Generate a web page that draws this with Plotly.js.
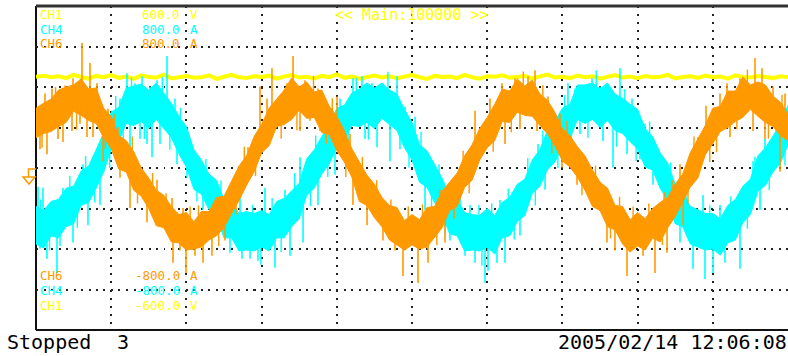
<!DOCTYPE html>
<html><head><meta charset="utf-8">
<script src="https://cdn.plot.ly/plotly-3.0.1.min.js"></script>
<style>html,body{margin:0;padding:0;background:#fff;}#chart{width:788px;height:356px;}</style>
</head><body><div id="chart"></div>
<script>
// CH6 current (A): upper / lower edge of the trace body, 10 samples per division
const ch6Hi = [295,320,340,385,400,410,440,390,395,295, 255,160,135,80,0,-50,-110,-135,-190,-230, -220,-265,-215,-215,-145,-140,-65,10,60,155, 215,295,340,385,445,400,425,375,385,305, 255,185,95,30,-35,-80,-145,-185,-195,-260, -230,-255,-195,-190,-115,-70,-25,60,115,195, 250,315,390,380,440,405,435,365,335,275, 195,160,105,60,-10,-70,-100,-185,-190,-255, -220,-250,-200,-170,-145,-80,-30,75,140,210, 295,305,380,380,450,410,425,410,355,325, 265];
const ch6Lo = [150,170,180,205,225,280,260,235,220,150, 95,-5,-20,-110,-140,-200,-285,-295,-365,-370, -405,-400,-390,-355,-335,-295,-225,-160,-85,-20, 75,110,205,215,240,285,245,250,175,165, 85,30,-45,-165,-185,-245,-290,-355,-380,-405, -380,-400,-390,-340,-295,-210,-190,-95,-60,40, 100,135,230,225,275,260,255,210,170,110, 35,5,-45,-110,-190,-210,-290,-305,-375,-415, -385,-405,-345,-365,-295,-240,-170,-95,-50,65, 120,180,200,230,250,290,255,225,205,160, 135];
// CH6 large noise spikes: position (samples) and tip value (A)
const ch6SpikeAt  = [1.20,2.13,3.86,4.92,6.12,7.18,8.11,9.57,10.90,16.09,18.09,19.55,28.19,29.79,30.72,31.38,33.38,34.18,35.77,37.50,40.03,41.76,53.72,58.38,60.37,61.97,63.70,65.43,66.36,68.09,69.68,83.64,85.64,88.03,89.10,90.96,91.89,93.62,95.61,96.54,98.01,99.60,
                     0.53,1.46,2.93,3.59,4.79,5.85,6.78,7.58,8.91,11.17,12.50,14.76,18.22,19.15,19.95,21.14,22.21,23.40,25.13,31.12,32.05,35.11,36.44,37.77,42.15,44.02,46.14,47.74,48.80,50.80,52.13,54.39,59.71,62.37,64.36,66.62,69.95,71.94,75.93,76.99,78.59,80.72,82.31,83.91,86.04,92.29,95.35,96.94,98.94];
const ch6SpikeTip = [368,393,408,443,618,518,418,293,203,-58,-148,-198,103,403,343,493,418,553,433,393,353,168,-108,283,343,418,443,453,483,353,268,-118,18,153,308,368,418,443,543,493,403,368,
                     93,68,143,128,183,218,153,153,33,-48,-198,-268,-468,-408,-518,-433,-468,-433,-358,183,218,183,233,183,-183,-283,-358,-408,-533,-568,-468,-368,83,118,193,183,3,-83,-368,-408,-533,-433,-518,-418,-283,153,183,143,-18];
// CH6 smaller spikes
const ch6MinorAt  = [0.8,2.6,5.4,9.2,10.4,12.8,13.5,15.5,17.3,20.5,21.6,24.3,26.6,27.7,29.2,32.6,34.7,36.9,38.6,39.4,41.2,43.4,45.3,47.2,49.5,51.4,53.3,55.6,56.8,57.6,60.8,63.2,64.8,67.4,68.6,70.6,72.6,74.4,76.4,77.6,79.4,81.5,83.3,84.6,86.7,87.5,89.6,90.5,93.2,94.6,97.4,99.2];
const ch6MinorTip = [100,400,190,95,265,155,-175,-25,-125,-190,-185,-385,-230,105,-40,145,186,455,120,345,-45,55,-60,-155,-190,-180,-380,-250,85,-125,80,177,477,410,70,233,-135,12,-348,-142,-190,-175,-380,-60,-175,155,30,78,191,486,145,361];
// CH4 current (A)
const ch4Hi = [-190,-210,-165,-155,-100,-90,-15,10,90,175, 275,300,395,405,415,385,420,370,320,255, 205,90,40,-30,-60,-155,-170,-225,-215,-225, -210,-230,-165,-150,-115,-75,45,90,155,210, 295,310,370,390,420,395,420,385,365,290, 225,115,85,15,-50,-140,-150,-220,-230,-235, -200,-235,-170,-145,-80,-55,40,90,185,230, 295,315,410,410,420,390,420,365,345,315, 290,195,155,75,25,-80,-110,-190,-205,-225, -225,-250,-185,-155,-90,-55,60,100,160,215, 310];
const ch4Lo = [-375,-395,-335,-345,-290,-275,-185,-170,-100,-20, 95,130,220,210,230,195,240,195,150,70, 5,-105,-130,-205,-240,-345,-345,-410,-405,-410, -390,-410,-345,-345,-290,-250,-135,-100,-30,20, 105,135,210,205,225,195,245,215,185,100, 40,-70,-95,-170,-225,-325,-335,-410,-405,-410, -390,-425,-345,-335,-265,-235,-125,-90,-10,30, 110,145,240,220,240,200,235,185,170,130, 95,5,-10,-100,-160,-275,-290,-375,-390,-405, -400,-430,-370,-355,-270,-230,-115,-85,-20,25, 115];
const ch4SpikeAt  = [0.27,0.93,3.59,6.25,7.45,8.91,9.44,10.11,11.17,12.10,13.16,14.10,15.16,16.09,17.42,18.48,20.48,27.13,30.45,33.11,35.11,38.43,40.43,42.15,43.35,44.68,46.41,48.01,49.07,50.40,57.71,61.70,66.76,68.62,70.74,71.68,72.74,73.94,75.00,76.33,77.66,79.26,80.98,88.70,90.96,95.35,96.94,98.94,
                     0.53,1.46,2.79,4.92,6.91,8.51,12.50,13.83,14.76,15.43,16.49,18.75,20.08,22.21,23.14,25.80,27.39,28.46,29.52,30.85,31.78,33.78,35.51,37.50,39.76,43.75,45.35,47.07,48.40,51.73,55.05,57.05,58.38,59.71,60.11,61.30,62.37,64.36,67.69,72.34,75.40,76.73,78.59,80.32,82.05,85.64,87.37,88.96,90.03,91.62,93.62,96.28];
const ch4SpikeTip = [-93,-98,-98,18,43,168,168,283,343,468,418,453,403,433,553,343,143,-133,-98,-108,53,193,343,443,453,418,403,453,303,253,-183,-158,118,218,418,393,383,443,403,368,493,343,218,-133,-183,33,143,253,
                     -398,-448,-518,-368,-283,-183,103,143,118,53,118,18,-48,-208,-258,-418,-448,-448,-458,-408,-493,-433,-368,-183,-33,143,103,33,93,-208,-358,-433,-468,-568,-508,-468,-468,-333,-108,168,133,3,68,43,-83,-368,-498,-548,-518,-468,-498,-208];
const ch4MinorAt  = [0.6,1.8,3.2,4.5,5.5,6.6,7.8,9.8,10.6,11.6,12.7,14.4,16.8,17.8,19.2,21.4,22.6,23.8,24.6,26.3,28.8,29.9,31.4,32.6,34.4,36.5,37.2,38.8,39.3,41.5,42.6,44.2,46.8,49.6,51.2,52.6,53.6,54.4,56.4,58.9,59.3,60.6,62.8,63.6,65.4,66.4,67.4,69.4,70.3,71.2,73.4,74.5,77.2,78.3,79.8,81.6,83.5,84.4,86.4,89.6,92.4,94.6,95.6,97.5,98.4,99.6];
const ch4MinorTip = [-155,-407,-385,-38,-295,60,-170,0,355,98,445,143,450,90,297,-165,45,-295,-62,-145,-182,-478,-148,-415,-25,-188,160,-44,296,100,445,140,475,3,179,-210,18,-322,-139,-183,-481,-175,-101,-353,50,-185,185,0,360,90,149,481,105,390,35,230,-198,27,-98,-185,-140,-300,55,-110,240,12];
// CH1 voltage (V)
const ch1V = [338,342,336,340,333,345,337,331,341,336, 344,334,339,330,343,337,335,346,332,338, 341,334,336,343,330,338,345,336,333,340, 337,342,331,339,344,335,338,332,341,336, 347,334,339,331,337,342,335,340,333,338, 344,336,330,341,337,339,333,345,336,331, 340,338,343,334,337,341,332,339,346,335, 338,333,342,336,340,331,337,344,335,339, 333,341,336,338,345,332,337,340,334,342, 336,339,331,343,337,335,341,338,333,340, 336];

const topRows = [
  {name:'CH1', value:'600.0', unit:'V', color:'#FFFF00'},
  {name:'CH4', value:'800.0', unit:'A', color:'#00FFFF'},
  {name:'CH6', value:'800.0', unit:'A', color:'#FF9900'}
];
const bottomRows = [
  {name:'CH6', value:'-800.0', unit:'A', color:'#FF9900'},
  {name:'CH4', value:'-800.0', unit:'A', color:'#00FFFF'},
  {name:'CH1', value:'-600.0', unit:'V', color:'#FFFF00'}
];
const timebaseText = '<< Main:100000 >>';
const statusText = 'Stopped';
const countText = '3';
const stampText = '2005/02/14 12:06:08';

const YEL = '#FFFF00', CYA = '#00FFFF', ORA = '#FF9900';
const idx = a => a.map((_, i) => i);

// each spike rises from the middle of the trace body at its position up/down to its tip
function spikeTrace(at, tip, hi, lo, color, width) {
  const xs = [], ys = [];
  at.forEach((s, j) => {
    const i = Math.min(Math.floor(s), hi.length - 2), f = s - i;
    const mid = ((hi[i] + lo[i]) * (1 - f) + (hi[i + 1] + lo[i + 1]) * f) / 2;
    xs.push(s, s, null); ys.push(mid, tip[j], null);
  });
  return {x: xs, y: ys, mode:'lines', line:{color, width}, xaxis:'x', yaxis:'y2', hoverinfo:'skip', connectgaps:false};
}

const traces = [
  {x: idx(ch1V), y: ch1V, mode:'lines', line:{color:YEL, width:4}, xaxis:'x', yaxis:'y', hoverinfo:'skip'},
  {x: idx(ch4Lo), y: ch4Lo, mode:'lines', line:{color:CYA, width:1}, xaxis:'x', yaxis:'y2', hoverinfo:'skip'},
  {x: idx(ch4Hi), y: ch4Hi, mode:'lines', line:{color:CYA, width:1}, fill:'tonexty', fillcolor:CYA, xaxis:'x', yaxis:'y2', hoverinfo:'skip'},
  spikeTrace(ch4SpikeAt, ch4SpikeTip, ch4Hi, ch4Lo, CYA, 1.6),
  spikeTrace(ch4MinorAt, ch4MinorTip, ch4Hi, ch4Lo, CYA, 1.4),
  {x: idx(ch6Lo), y: ch6Lo, mode:'lines', line:{color:ORA, width:1}, xaxis:'x', yaxis:'y2', hoverinfo:'skip'},
  {x: idx(ch6Hi), y: ch6Hi, mode:'lines', line:{color:ORA, width:1}, fill:'tonexty', fillcolor:ORA, xaxis:'x', yaxis:'y2', hoverinfo:'skip'},
  spikeTrace(ch6SpikeAt, ch6SpikeTip, ch6Hi, ch6Lo, ORA, 1.6),
  spikeTrace(ch6MinorAt, ch6MinorTip, ch6Hi, ch6Lo, ORA, 1.4)
];

const L = 36, R = 788, T = 6, B = 330;
const px = v => (v - L) / (R - L);
const py = v => (B - v) / (B - T);
const FONT = '"DejaVu Sans Mono", monospace';

const ann = [];
function addText(x, y, text, anchor, size, color) {
  ann.push({xref:'paper', yref:'paper', x:px(x), y:py(y), xanchor:anchor, yanchor:'middle', text, showarrow:false, borderpad:0, font:{family:FONT, size, color}});
}
function rowAnn(row, y) {
  addText(39, y, row.name, 'left', 12.5, row.color);
  addText(181, y, row.value, 'right', 12.5, row.color);
  addText(189, y, row.unit, 'left', 12.5, row.color);
}
[14.5, 29.3, 44].forEach((y, i) => rowAnn(topRows[i], y));
[275, 290, 305].forEach((y, i) => rowAnn(bottomRows[i], y));
addText(334, 15, timebaseText.replace(/</g,'&lt;').replace(/>/g,'&gt;'), 'left', 15, YEL);
addText(6, 342, statusText, 'left', 20, '#000');
addText(116, 342, countText, 'left', 20, '#000');
addText(788, 342, stampText, 'right', 20, '#000');

const shapes = [
  {type:'line', xref:'paper', yref:'paper', x0:0, x1:1, y0:1, y1:1, line:{color:'#333', width:3}, layer:'above'},
  {type:'line', xref:'paper', yref:'paper', x0:0, x1:1, y0:0, y1:0, line:{color:'#111', width:2}, layer:'above'},
  {type:'line', xref:'paper', yref:'paper', x0:0, x1:0, y0:0, y1:1, line:{color:'#111', width:2}, layer:'below'},
  {type:'path', xref:'paper', yref:'paper', layer:'above',
   path:`M${px(36)},${py(169)} L${px(28.5)},${py(169)} L${px(28.5)},${py(177)} M${px(23)},${py(177)} L${px(35)},${py(177)} L${px(29)},${py(184)} Z`,
   line:{color:ORA, width:1.5}}
];

const layout = {
  width:788, height:356,
  margin:{l:L, r:0, t:T, b:356-B, pad:0},
  paper_bgcolor:'#fff', plot_bgcolor:'#fff',
  showlegend:false,
  xaxis:{range:[0,100], tick0:0, dtick:10, showgrid:true, gridcolor:'#222', gridwidth:2, griddash:'2px,6.1px', showticklabels:false, ticks:'', zeroline:false, showline:false, fixedrange:true},
  yaxis:{range:[-600,600], tick0:0, dtick:150, showgrid:true, gridcolor:'#222', gridwidth:2, griddash:'2px,5.5px', showticklabels:false, ticks:'', zeroline:false, showline:false, fixedrange:true},
  yaxis2:{range:[-800,800], overlaying:'y', visible:false, showgrid:false, zeroline:false, fixedrange:true},
  annotations:ann,
  shapes:shapes
};
Plotly.newPlot('chart', traces, layout, {staticPlot:true, displayModeBar:false});
</script></body></html>
